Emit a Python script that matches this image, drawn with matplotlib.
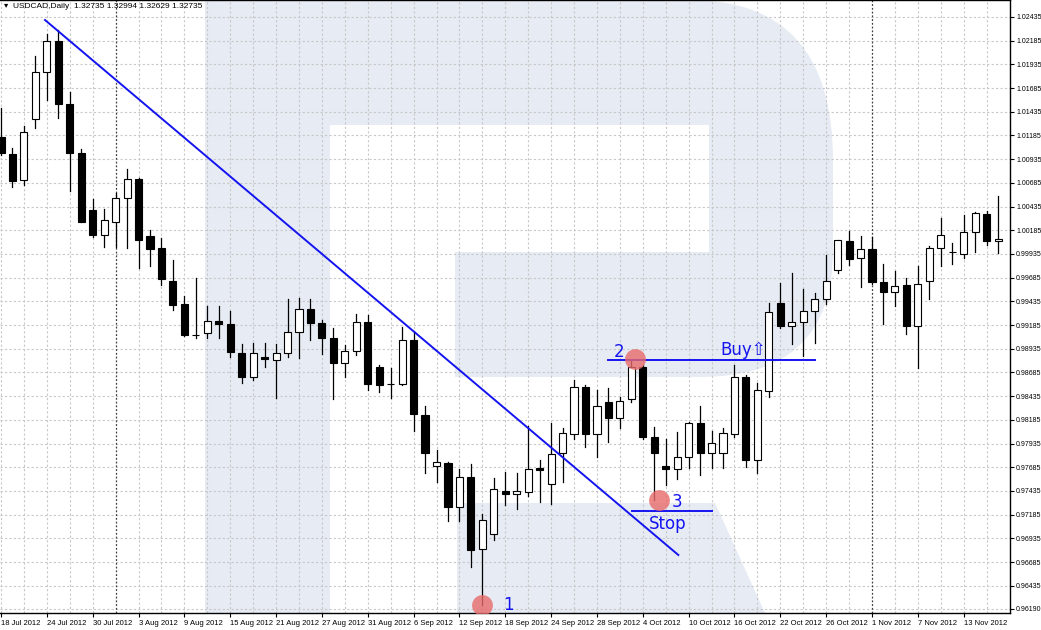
import matplotlib
matplotlib.use("Agg")
import matplotlib.pyplot as plt
from matplotlib.path import Path
from matplotlib.patches import PathPatch, Rectangle
import matplotlib.transforms as mtransforms

opens = [1.01169,1.00989,1.00715,1.01359,1.01854,1.02181,1.01517,1.01000,1.00398,1.00135,
         1.00272,1.00525,1.00726,1.00124,0.99998,0.99649,0.99407,0.99085,0.99101,0.99227,
         0.99196,0.98890,0.98637,0.98848,0.98816,0.98890,0.99111,0.99354,0.99206,0.99048,
         0.98784,0.98911,0.99217,0.98742,0.98563,0.98563,0.99027,0.98236,0.97698,0.97729,
         0.97265,0.97582,0.96822,0.96980,0.97434,0.97402,0.97423,0.97677,0.97508,0.97834,
         0.98035,0.98531,0.98035,0.98373,0.98204,0.98405,0.98742,0.98004,0.97698,0.97666,
         0.97793,0.98151,0.97835,0.97835,0.98035,0.98637,0.97761,0.98489,0.99417,0.99175,
         0.99217,0.99333,0.99460,0.99765,1.00071,0.99892,0.99987,0.99639,0.99533,0.99607,
         0.99175,0.99649,0.99998,0.99955,0.99934,1.00166,1.00356,1.00071]
highs = [1.01475,1.01053,1.01285,1.02023,1.02255,1.02297,1.01643,1.01042,1.00515,1.00409,
         1.00578,1.00831,1.00740,1.00187,1.00103,0.99871,0.99491,0.99681,0.99386,0.99386,
         0.99333,0.98985,0.98995,0.98995,0.98985,0.99460,0.99470,0.99460,0.99238,0.99154,
         0.98974,0.99301,0.99291,0.98763,0.98732,0.99164,0.99122,0.98331,0.97866,0.97740,
         0.97666,0.97719,0.97191,0.97571,0.97634,0.97624,0.98120,0.97761,0.98151,0.98098,
         0.98605,0.98550,0.98499,0.98521,0.98426,0.98816,0.98760,0.98109,0.97983,0.98056,
         0.98160,0.98331,0.98067,0.98099,0.98763,0.98660,0.98573,0.99417,0.99628,0.99734,
         0.99565,0.99523,0.99924,1.00082,1.00177,1.00124,1.00114,0.99829,0.99755,0.99681,
         0.99808,1.00019,1.00314,1.00050,1.00346,1.00377,1.00388,1.00546]
lows = [1.00979,1.00641,1.00662,1.01264,1.01559,1.01369,1.00599,1.00272,1.00114,1.00008,
        1.00008,0.99998,0.99787,0.99808,0.99607,0.99343,0.99070,0.99048,0.99048,0.99048,
        0.98848,0.98573,0.98605,0.98742,0.98415,0.98848,0.98838,0.99027,0.98879,0.98405,
        0.98637,0.98869,0.98499,0.98478,0.98415,0.98552,0.98067,0.97624,0.97529,0.97117,
        0.97117,0.96632,0.96231,0.96917,0.97286,0.97244,0.97381,0.97318,0.97297,0.97529,
        0.97983,0.97898,0.97793,0.97951,0.98099,0.98373,0.97983,0.97338,0.97497,0.97561,
        0.97677,0.97603,0.97677,0.97677,0.98004,0.97687,0.97624,0.98426,0.99154,0.98985,
        0.98858,0.98995,0.99407,0.99734,0.99818,0.99586,0.99620,0.99196,0.99386,0.99090,
        0.98732,0.99460,0.99808,0.99829,0.99892,0.99955,1.00029,0.99945]
closes = [1.01000,1.00704,1.01221,1.01854,1.02181,1.01517,1.01000,1.00272,1.00135,1.00293,
          1.00525,1.00726,1.00082,0.99987,0.99671,0.99396,0.99080,0.99075,0.99227,0.99196,
          0.98900,0.98637,0.98890,0.98827,0.98890,0.99111,0.99354,0.99206,0.99048,0.98784,
          0.98911,0.99217,0.98563,0.98552,0.98558,0.99027,0.98246,0.97835,0.97740,0.97265,
          0.97582,0.96811,0.97128,0.97455,0.97402,0.97434,0.97666,0.97655,0.97824,0.98046,
          0.98531,0.98035,0.98331,0.98204,0.98383,0.98742,0.98004,0.97835,0.97666,0.97793,
          0.98151,0.97835,0.97940,0.98046,0.98637,0.97761,0.98499,0.99322,0.99175,0.99217,
          0.99333,0.99460,0.99649,1.00082,0.99882,0.99987,0.99639,0.99533,0.99597,0.99175,
          0.99618,0.99998,1.00135,0.99960,1.00166,1.00367,1.00071,1.00093]

date_labels = ["18 Jul 2012","24 Jul 2012","30 Jul 2012","3 Aug 2012","9 Aug 2012",
               "15 Aug 2012","21 Aug 2012","27 Aug 2012","31 Aug 2012","6 Sep 2012",
               "12 Sep 2012","18 Sep 2012","24 Sep 2012","28 Sep 2012","4 Oct 2012",
               "10 Oct 2012","16 Oct 2012","22 Oct 2012","26 Oct 2012","1 Nov 2012",
               "7 Nov 2012","13 Nov 2012"]
month_starts = [10, 33, 53, 76]
price_ticks = [1.02435 - 0.0025*k for k in range(25)] + [0.96190]

trend_start = (3.84, 1.02403)
trend_end = (59.1, 0.96759)
buy_level = 0.98816
buy_span = (53.0, 71.0)
stop_level = 0.97223
stop_span = (55.1, 62.0)
points = [(42, 0.96231, "1"), (55.3, 0.98826, "2"), (57.4, 0.97338, "3")]

small_font = ["Liberation Sans", "DejaVu Sans"]

W, H = 1041, 630
fig = plt.figure(figsize=(W/100, H/100), dpi=100)
fig.patch.set_facecolor("white")

bg = fig.add_axes([0, 0, 1, 1], zorder=0)
bg.set_xlim(0, W); bg.set_ylim(H, 0); bg.axis("off")
wm = "#e6ebf4"
M, L, C3, Z = Path.MOVETO, Path.LINETO, Path.CURVE3, Path.CLOSEPOLY
verts = [(205,0),(690,0),(833,0),(833,160),(833,250),(833,377),(700,377),(455,377),(455,252),
         (709,252),(709,125),(330,125),(330,613),(205,613),(205,0)]
codes = [M,L,C3,C3,L,C3,C3,L,L,L,L,L,L,L,Z]
bg.add_patch(PathPatch(Path(verts, codes), fc=wm, ec="none"))
bg.add_patch(PathPatch(Path([(457,503),(715,503),(765,613),(457,613),(457,503)],[M,L,L,L,Z]), fc=wm, ec="none"))

ax = fig.add_axes([0, (H-613)/H, 1010/W, 613/H], zorder=1)
ax.patch.set_alpha(0)
ax.set_xlim(-0.087, 88.04)
ax.set_ylim(0.96147, 1.02614)

for p in price_ticks:
    ax.axhline(p, color="#c8c8c8", lw=0.8, ls=(0, (2, 2)), zorder=1)
for i in range(0, 89, 2):
    if i in month_starts:
        ax.axvline(i, color="#404040", lw=0.9, ls=(0, (1.5, 1.5)), zorder=1)
    else:
        ax.axvline(i, color="#c8c8c8", lw=0.8, ls=(0, (2, 2)), zorder=1)

bw = 0.62
for i, (o, h, l, c) in enumerate(zip(opens, highs, lows, closes)):
    ax.plot([i, i], [l, h], color="black", lw=0.9, zorder=3)
    lo, hi = min(o, c), max(o, c)
    hgt = max(hi - lo, 0.00003)
    fc = "black" if c < o else "white"
    ax.add_patch(Rectangle((i - bw/2, lo), bw, hgt, fc=fc, ec="black", lw=0.8, zorder=4))

blue = "#1414f0"
ax.plot([trend_start[0], trend_end[0]], [trend_start[1], trend_end[1]], color=blue, lw=1.4, zorder=5)
ax.plot(buy_span, [buy_level]*2, color=blue, lw=1.4, zorder=5)
ax.plot(stop_span, [stop_level]*2, color=blue, lw=1.4, zorder=5)

for (xi, p, lab) in points:
    ax.plot(xi, p, "o", ms=15, color="#e86a6a", alpha=0.8, mec="none", zorder=6)
ax.text(43.8, 0.96231, "1", color=blue, fontsize=12, va="center", zorder=7)
ax.text(53.5, 0.98900, "2", color=blue, fontsize=12, va="center", zorder=7)
ax.text(58.5, 0.97320, "3", color=blue, fontsize=12, va="center", zorder=7)
ax.text(56.5, 0.97090, "Stop", color=blue, fontsize=12, va="center", zorder=7)
ax.text(62.8, 0.98920, "Buy\u21e7", color=blue, fontsize=12, va="center", zorder=7)

ax.yaxis.tick_right()
ax.set_yticks(price_ticks)
ax.set_yticklabels([f"{p:.5f}" for p in price_ticks], fontsize=5, family=small_font)
ax.set_xticks(list(range(0, 85, 4)))
ax.set_xticklabels(date_labels, fontsize=5.5, ha="left", family=small_font)
off = mtransforms.ScaledTranslation(2/100, 0, fig.dpi_scale_trans)
for t in ax.get_xticklabels():
    t.set_transform(t.get_transform() + off)
ax.tick_params(axis="y", length=3, width=0.8, pad=1.5, colors="black")
ax.tick_params(axis="x", length=3, width=0.8, pad=2, colors="black")
ax.spines["left"].set_visible(False)
for s in ["right", "bottom", "top"]:
    ax.spines[s].set_linewidth(1.0)

fig.text(4/W, 1 - 7/H, "\u25be  USDCAD,Daily  1.32735 1.32994 1.32629 1.32735", fontsize=6,
         va="center", family=small_font)

fig.savefig("out.png", dpi=100)
